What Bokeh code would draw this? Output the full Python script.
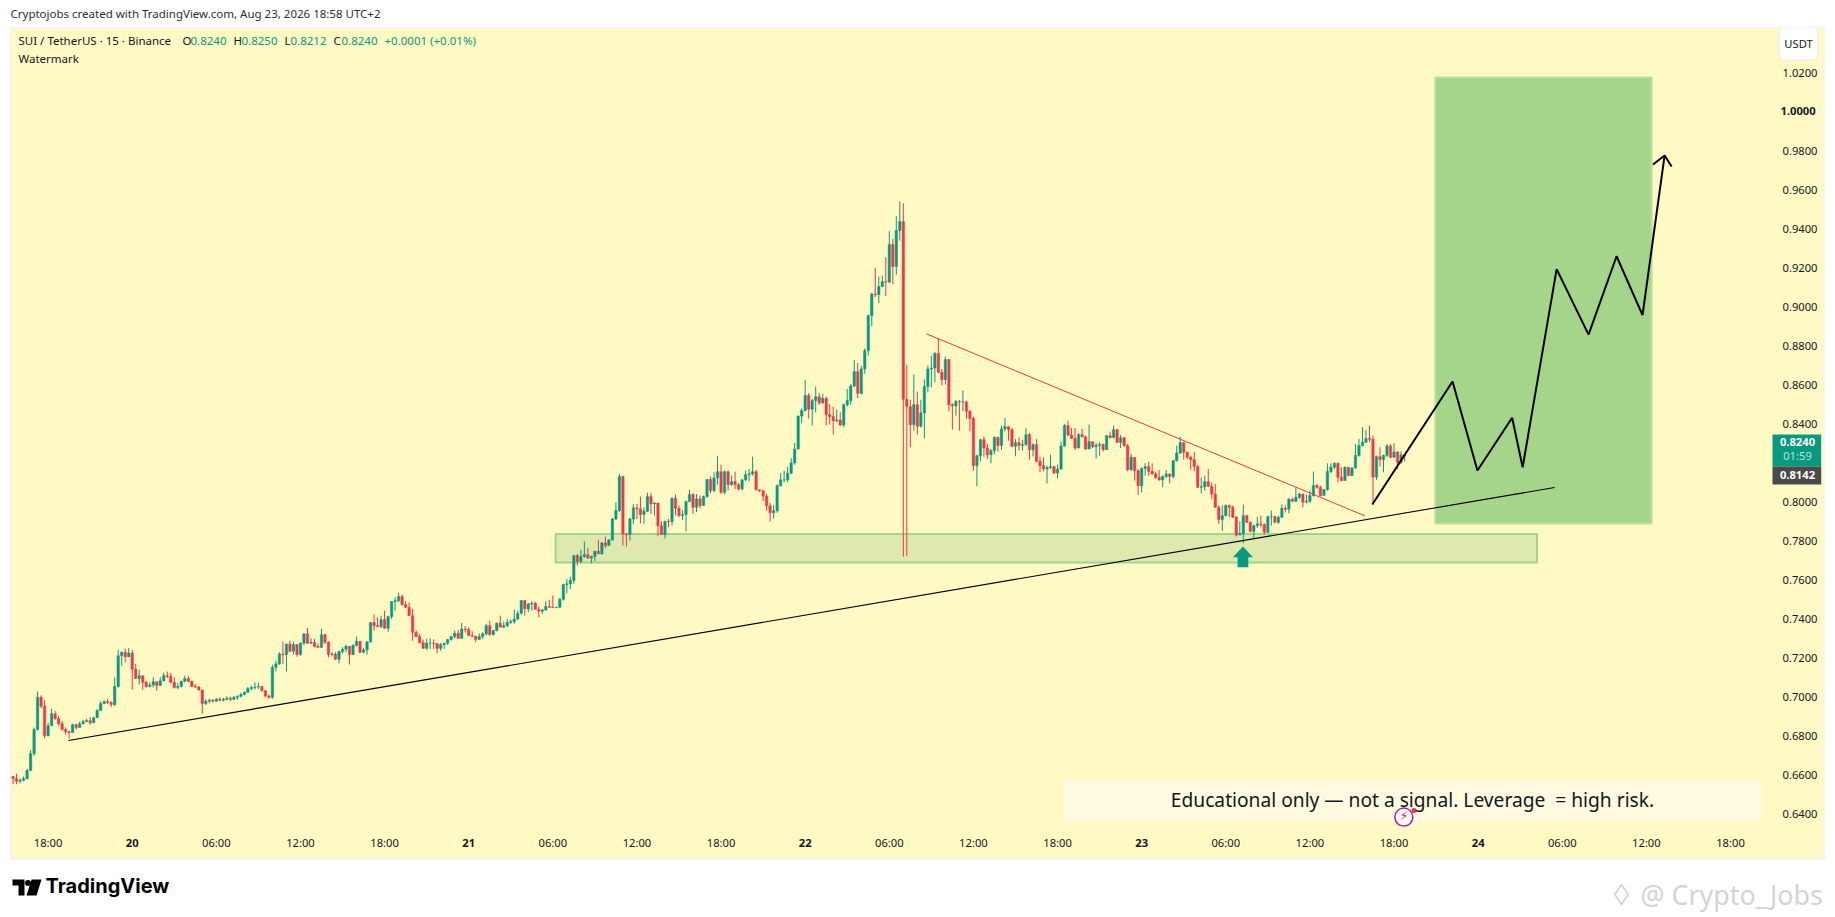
from bokeh.plotting import figure
from bokeh.embed import file_html
from bokeh.resources import INLINE
from bokeh.layouts import column
from bokeh.models import Range1d, FixedTicker, NumeralTickFormatter, Label

closes = [
 .6590,.6575,.6580,.6590,.6630,.6717,.6840,.7005,.6960,.6809,
 .6860,.6921,.6896,.6870,.6840,.6829,.6825,.6865,.6850,.6870,
 .6880,.6886,.6875,.6901,.6937,.6973,.6983,.6978,.6968,.7060,
 .7218,.7236,.7213,.7232,.7149,.7102,.7116,.7082,.7061,.7068,
 .7085,.7065,.7090,.7116,.7113,.7082,.7055,.7061,.7087,.7101,
 .7087,.7061,.7058,.7043,.6973,.6985,.6990,.6985,.6995,.6990,
 .6995,.7000,.6995,.7005,.7010,.7020,.7030,.7050,.7055,.7058,
 .7060,.7039,.7012,.7005,.7159,.7176,.7227,.7224,.7278,.7241,
 .7275,.7224,.7282,.7330,.7282,.7287,.7266,.7261,.7326,.7287,
 .7224,.7227,.7200,.7239,.7251,.7266,.7224,.7270,.7292,.7236,
 .7248,.7289,.7388,.7372,.7367,.7403,.7359,.7418,.7495,.7500,
 .7521,.7480,.7466,.7423,.7338,.7316,.7285,.7256,.7282,.7282,
 .7280,.7256,.7275,.7282,.7301,.7316,.7333,.7307,.7355,.7352,
 .7321,.7318,.7301,.7316,.7330,.7372,.7326,.7347,.7384,.7364,
 .7372,.7388,.7393,.7406,.7435,.7500,.7458,.7483,.7487,.7456,
 .7446,.7452,.7470,.7466,.7464,.7466,.7507,.7582,.7586,.7603,
 .7731,.7700,.7726,.7736,.7717,.7726,.7753,.7739,.7796,.7782,
 .7811,.7918,.7961,.8135,.7842,.7838,.7918,.7975,.7970,.7941,
 .7958,.8033,.7995,.8000,.7884,.7838,.7906,.7905,.8024,.7973,
 .7936,.7941,.8007,.8043,.7978,.8021,.7987,.8033,.8120,.8063,
 .8128,.8160,.8055,.8160,.8094,.8109,.8094,.8072,.8118,.8145,
 .8149,.8160,.8068,.8063,.8035,.7985,.7950,.7960,.8089,.8118,
 .8118,.8152,.8205,.8276,.8445,.8473,.8550,.8480,.8524,.8544,
 .8512,.8536,.8452,.8442,.8421,.8425,.8399,.8503,.8524,.8599,
 .8672,.8561,.8686,.8780,.8959,.9070,.9067,.9108,.9133,.9130,
 .9323,.9210,.9395,.9441,.8531,.8493,.8401,.8503,.8393,.8461,
 .8596,.8686,.8691,.8766,.8669,.8632,.8734,.8503,.8497,.8519,
 .8517,.8517,.8469,.8433,.8191,.8242,.8324,.8282,.8247,.8268,
 .8336,.8294,.8379,.8391,.8375,.8290,.8309,.8295,.8299,.8350,
 .8273,.8299,.8213,.8191,.8174,.8182,.8186,.8153,.8174,.8292,
 .8396,.8348,.8331,.8281,.8350,.8339,.8276,.8314,.8288,.8295,
 .8299,.8273,.8344,.8334,.8375,.8310,.8334,.8293,.8170,.8234,
 .8165,.8088,.8177,.8186,.8162,.8148,.8131,.8118,.8136,.8148,
 .8135,.8216,.8256,.8309,.8259,.8234,.8222,.8187,.8080,.8083,
 .8109,.8085,.8046,.7978,.7915,.7935,.7987,.7978,.7927,.7836,
 .7843,.7935,.7901,.7855,.7884,.7893,.7889,.7850,.7930,.7930,
 .7901,.7927,.7973,.7968,.8019,.8009,.8029,.8046,.8004,.8009,
 .8038,.8089,.8080,.8038,.8068,.8161,.8183,.8203,.8132,.8115,
 .8183,.8140,.8179,.8243,.8294,.8311,.8330,.8326,.8132,.8237,
 .8222,.8243,.8292,.8234,.8261,.8208,.8246,.8240,
]
highs = [
 .6600,.6614,.6590,.6600,.6640,.6735,.6850,.7035,.7015,.6990,
 .6875,.6947,.6935,.6910,.6885,.6850,.6835,.6870,.6870,.6880,
 .6890,.6895,.6905,.6905,.6945,.6985,.6990,.6998,.6985,.7108,
 .7249,.7240,.7254,.7258,.7248,.7176,.7147,.7116,.7090,.7082,
 .7108,.7085,.7108,.7131,.7137,.7131,.7108,.7079,.7090,.7116,
 .7116,.7090,.7073,.7063,.7043,.6995,.6998,.6998,.7002,.7005,
 .7003,.7010,.7008,.7012,.7015,.7028,.7036,.7058,.7065,.7082,
 .7080,.7065,.7040,.7020,.7172,.7193,.7236,.7290,.7280,.7295,
 .7290,.7275,.7287,.7333,.7360,.7309,.7304,.7282,.7355,.7330,
 .7292,.7236,.7236,.7244,.7261,.7275,.7266,.7278,.7316,.7292,
 .7258,.7292,.7389,.7429,.7415,.7423,.7449,.7423,.7497,.7517,
 .7540,.7531,.7497,.7491,.7458,.7347,.7330,.7301,.7304,.7307,
 .7302,.7282,.7283,.7285,.7304,.7318,.7347,.7350,.7386,.7370,
 .7364,.7343,.7321,.7333,.7338,.7381,.7398,.7350,.7388,.7423,
 .7394,.7406,.7403,.7454,.7449,.7504,.7504,.7488,.7497,.7495,
 .7470,.7458,.7497,.7504,.7526,.7470,.7514,.7586,.7611,.7623,
 .7734,.7739,.7760,.7802,.7770,.7731,.7756,.7811,.7799,.7828,
 .7814,.7924,.8004,.8149,.8140,.7845,.7924,.7995,.7995,.8033,
 .7978,.8052,.8052,.8004,.7995,.7906,.7910,.7918,.8029,.8043,
 .7987,.7961,.8012,.8067,.8050,.8046,.8038,.8038,.8123,.8135,
 .8157,.8242,.8196,.8166,.8166,.8140,.8160,.8101,.8123,.8166,
 .8174,.8237,.8169,.8071,.8065,.8045,.8000,.7990,.8095,.8153,
 .8165,.8186,.8230,.8307,.8447,.8485,.8631,.8563,.8533,.8596,
 .8563,.8558,.8544,.8507,.8493,.8478,.8464,.8509,.8584,.8609,
 .8732,.8717,.8703,.8792,.8964,.9075,.9203,.9159,.9164,.9258,
 .9391,.9352,.9468,.9543,.9534,.8708,.8529,.8657,.8570,.8529,
 .8633,.8703,.8754,.8771,.8843,.8686,.8749,.8737,.8510,.8527,
 .8527,.8575,.8524,.8476,.8442,.8247,.8328,.8340,.8302,.8277,
 .8340,.8340,.8396,.8435,.8391,.8384,.8327,.8336,.8324,.8384,
 .8358,.8305,.8327,.8237,.8233,.8191,.8247,.8191,.8196,.8314,
 .8404,.8421,.8384,.8384,.8358,.8379,.8344,.8401,.8314,.8307,
 .8310,.8305,.8348,.8365,.8396,.8379,.8348,.8339,.8302,.8251,
 .8230,.8174,.8182,.8204,.8211,.8203,.8160,.8169,.8140,.8169,
 .8152,.8220,.8293,.8339,.8310,.8264,.8242,.8262,.8196,.8131,
 .8140,.8174,.8106,.8097,.7987,.7987,.7992,.7992,.7987,.7934,
 .7905,.7992,.7940,.7906,.7889,.7930,.7935,.7896,.7934,.7961,
 .7934,.7935,.7992,.7987,.8026,.8026,.8077,.8053,.8046,.8043,
 .8063,.8161,.8097,.8089,.8072,.8203,.8203,.8208,.8208,.8183,
 .8186,.8183,.8183,.8302,.8328,.8388,.8374,.8396,.8345,.8243,
 .8285,.8248,.8302,.8302,.8306,.8265,.8265,.8250,
]
lows = [
 .6560,.6560,.6565,.6575,.6585,.6630,.6705,.6835,.6950,.6795,
 .6805,.6860,.6890,.6860,.6835,.6815,.6795,.6825,.6840,.6850,
 .6870,.6880,.6865,.6895,.6900,.6937,.6973,.6970,.6955,.6960,
 .7055,.7167,.7184,.7210,.7044,.7099,.7070,.7044,.7055,.7056,
 .7056,.7039,.7067,.7087,.7104,.7077,.7050,.7046,.7056,.7082,
 .7082,.7057,.7053,.7040,.6921,.6965,.6975,.6978,.6982,.6985,
 .6985,.6990,.6985,.6990,.6992,.7005,.7015,.7030,.7040,.7045,
 .7048,.7035,.7005,.6998,.6998,.7138,.7172,.7176,.7138,.7235,
 .7224,.7213,.7218,.7272,.7278,.7278,.7261,.7258,.7258,.7278,
 .7210,.7215,.7196,.7179,.7231,.7236,.7173,.7222,.7266,.7231,
 .7231,.7224,.7285,.7347,.7364,.7360,.7355,.7341,.7406,.7449,
 .7492,.7475,.7463,.7422,.7295,.7316,.7282,.7253,.7249,.7253,
 .7253,.7231,.7244,.7253,.7273,.7295,.7307,.7307,.7306,.7338,
 .7321,.7313,.7287,.7301,.7304,.7321,.7321,.7321,.7342,.7364,
 .7360,.7364,.7381,.7381,.7401,.7429,.7423,.7441,.7449,.7454,
 .7415,.7432,.7449,.7463,.7463,.7463,.7461,.7500,.7538,.7560,
 .7586,.7679,.7691,.7719,.7717,.7691,.7702,.7739,.7736,.7768,
 .7782,.7808,.7913,.7953,.7782,.7777,.7808,.7893,.7918,.7896,
 .7893,.7953,.7944,.7935,.7830,.7838,.7819,.7876,.7884,.7936,
 .7927,.7913,.7855,.8004,.7944,.7953,.7973,.7987,.8026,.8050,
 .8055,.8094,.8045,.8045,.8063,.8089,.8072,.8063,.8063,.8114,
 .8111,.8140,.8063,.8055,.8010,.7960,.7905,.7920,.7950,.8084,
 .8106,.8106,.8148,.8196,.8275,.8408,.8469,.8433,.8396,.8464,
 .8502,.8507,.8396,.8401,.8350,.8413,.8393,.8387,.8493,.8503,
 .8592,.8536,.8555,.8661,.8754,.8905,.9053,.9022,.9104,.9058,
 .9128,.9120,.9169,.9343,.7725,.7730,.8285,.8370,.8350,.8387,
 .8331,.8567,.8592,.8618,.8664,.8601,.8606,.8469,.8375,.8447,
 .8370,.8469,.8430,.8367,.8165,.8085,.8213,.8237,.8225,.8203,
 .8251,.8263,.8271,.8367,.8319,.8285,.8239,.8268,.8268,.8293,
 .8222,.8239,.8208,.8157,.8162,.8100,.8174,.8148,.8126,.8170,
 .8288,.8341,.8327,.8271,.8281,.8336,.8273,.8276,.8281,.8228,
 .8242,.8263,.8273,.8331,.8334,.8307,.8281,.8288,.8162,.8165,
 .8114,.8042,.8054,.8140,.8140,.8145,.8123,.8114,.8080,.8128,
 .8100,.8126,.8213,.8251,.8222,.8225,.8170,.8162,.8076,.8049,
 .8063,.8083,.8020,.7975,.7893,.7858,.7932,.7927,.7923,.7828,
 .7836,.7794,.7898,.7850,.7821,.7872,.7875,.7838,.7848,.7884,
 .7896,.7893,.7923,.7952,.7947,.8004,.8004,.8021,.7978,.7998,
 .8000,.8033,.8072,.8033,.8038,.8063,.8152,.8174,.8106,.8111,
 .8115,.8137,.8145,.8176,.8237,.8289,.8306,.8311,.7995,.8118,
 .8186,.8157,.8234,.8229,.8231,.8174,.8200,.8212,
]
first_open = .6600
first_index = -10

y_ticks = [.64,.66,.68,.70,.72,.74,.76,.78,.80,.82,.84,.86,.88,.90,.92,.94,.96,.98,1.00,1.02]
x_tick_index = [0,24,48,72,96,120,144,168,192,216,240,264,288,312,336,360,384,408,432,456,480]
x_tick_text = ["18:00","20","06:00","12:00","18:00","21","06:00","12:00","18:00","22","06:00",
               "12:00","18:00","23","06:00","12:00","18:00","24","06:00","12:00","18:00"]

target_box_x = [395.8, 457.5]
target_box_y = [.7895, 1.0178]
zone_x = [144.8, 424.8]
zone_y = [.7695, .7841]
support_x = [5.8, 429.8]
support_y = [.6784, .8079]
resistance_x = [250.6, 375.7]
resistance_y = [.8866, .7934]
path_x = [377.8,400.7,407.8,417.7,420.7,430.4,439.5,447.5,454.9,461.2]
path_y = [.7992,.8622,.8166,.8436,.8183,.9197,.8862,.9263,.8962,.9779]
head_x = [457.9,461.2,463.2]
head_y = [.9733,.9779,.9722]
arrow_x = [340.9,343.75,342.42,342.42,339.38,339.38,338.05]
arrow_y = [.7777,.7722,.7722,.7671,.7671,.7722,.7722]
note_x = [289.8, 488.8]
note_y = [.6370, .6584]
event_x = [386.8]
event_y = [.6392]
event_dot_x = [389.7]
event_dot_y = [.6426]

YELLOW = "#fff9c4"
UP = "#089981"
DOWN = "#f23645"
INK = "#131722"
FONT = "Noto Sans"
SPACING = 3.505
ORIGIN = 47.6
PX_PER_UNIT = 1950.0
READ_PX_PER_UNIT = 1953.5

def X(px):
    return (px - ORIGIN) / SPACING

def Y(py):
    return 1.02 - (py - 72.7) / PX_PER_UNIT

def cal(values):
    # the readings were taken with a slightly different axis calibration
    return [1.02 - (1.02 - v) * READ_PX_PER_UNIT / PX_PER_UNIT for v in values]

p = figure(width=1815, height=833, output_backend="svg", toolbar_location=None,
           x_range=Range1d(X(10), X(1825)), y_range=Range1d(Y(860), Y(27)),
           y_axis_location="right", background_fill_color=YELLOW, border_fill_color=YELLOW,
           min_border_left=0, min_border_top=0, min_border_right=0, min_border_bottom=0,
           outline_line_color="#f0f3fa", outline_line_width=2, margin=(0, 0, 0, 2))
p.grid.visible = False

for ax in (p.xaxis[0], p.yaxis[0]):
    ax.axis_line_color = None
    ax.major_tick_line_color = None
    ax.minor_tick_line_color = None
    ax.major_tick_out = 0
    ax.major_label_text_font = FONT
    ax.major_label_text_font_size = "11.2px"
    ax.major_label_text_color = INK

p.yaxis[0].major_label_standoff = 4
p.xaxis[0].major_label_standoff = 2
p.yaxis[0].fixed_location = X(1778)
p.xaxis[0].fixed_location = Y(832)
p.yaxis[0].ticker = FixedTicker(ticks=y_ticks)
p.yaxis[0].formatter = NumeralTickFormatter(format="0.0000")
p.yaxis[0].major_label_overrides = {1.0: "", 0.82: ""}
p.xaxis[0].ticker = FixedTicker(ticks=x_tick_index)
p.xaxis[0].major_label_overrides = {i: ("" if len(t) == 2 else t) for i, t in zip(x_tick_index, x_tick_text)}

ty = cal(target_box_y)
p.quad(left=target_box_x[0], right=target_box_x[1], bottom=ty[0], top=ty[1],
       fill_color="#a5d48b", line_color="#b9dfa0", line_width=2)
zy = cal(zone_y)
p.quad(left=zone_x[0], right=zone_x[1], bottom=zy[0], top=zy[1],
       fill_color="#dde9ae", line_color="#a0d488", line_width=2)
ny = cal(note_y)
p.quad(left=note_x[0], right=note_x[1], bottom=ny[0], top=ny[1],
       fill_color="#fffae0", line_color=None)

index = [first_index + i for i in range(len(closes))]
opens = [first_open] + closes[:-1]
colors = [UP if c >= o else DOWN for o, c in zip(opens, closes)]
tops = [max(o, c) for o, c in zip(opens, closes)]
bottoms = [min(o, c) for o, c in zip(opens, closes)]
wick_hi = [max(h, t) for h, t in zip(highs, tops)]
wick_lo = [min(l, b) for l, b in zip(lows, bottoms)]

p.segment(index, cal(wick_hi), index, cal(wick_lo), line_color=colors, line_width=1)
p.vbar(x=index, width=0.68, top=cal(tops), bottom=cal(bottoms), fill_color=colors, line_color=colors, line_width=0.5)

p.line(support_x, cal(support_y), line_color="#000000", line_width=1.1)
p.line(resistance_x, cal(resistance_y), line_color=DOWN, line_width=1)
p.line(path_x, cal(path_y), line_color="#000000", line_width=2)
p.line(head_x, cal(head_y), line_color="#000000", line_width=2)
p.patch(arrow_x, cal(arrow_y), fill_color=UP, line_color=None)
p.scatter(event_x, cal(event_y), size=18, marker="circle", fill_color="#fff9e8", line_color="#9c27b0", line_width=1.5)
p.scatter(event_dot_x, cal(event_dot_y), size=5, marker="circle", fill_color=DOWN, line_color=None)

# price tags on the axis strip
p.quad(left=X(1772), right=X(1820.7), top=Y(434), bottom=Y(466), fill_color=UP, line_color=None)
p.quad(left=X(1772), right=X(1820.7), top=Y(466), bottom=Y(484), fill_color="#4a4a4a", line_color=None)

def lbl(text, px, py, size="11.5px", color=INK, align="left", style="normal", font=FONT, **kw):
    p.add_layout(Label(x=X(px), y=Y(py), text=text, text_font=font, text_font_size=size,
                       text_color=color, text_align=align, text_baseline="middle",
                       text_font_style=style, **kw))

lbl("SUI / TetherUS · 15 · Binance", 18, 40)
for t, x, c in [("O", 182, INK), ("0.8240", 190, UP), ("H", 233, INK), ("0.8250", 241, UP),
                ("L", 284, INK), ("0.8212", 290, UP), ("C", 333, INK), ("0.8240", 341, UP),
                ("+0.0001 (+0.01%)", 384, UP)]:
    lbl(t, x, 40, color=c)
lbl("Watermark", 18, 58)
lbl("⚡", 1403.5, 815.5, size="12px", color="#9c27b0", align="center", font="DejaVu Sans")
lbl("Educational only — not a signal. Leverage\u00a0 = high risk.", 1412, 799, size="19.2px", align="center")

for i, t in zip(x_tick_index, x_tick_text):
    if len(t) == 2:
        lbl(t, ORIGIN + SPACING * i, 842, size="11.2px", align="center", style="bold")
lbl("1.0000", 1780, 110, size="11.2px", style="bold")

lbl("USDT", 1798, 43, size="11.2px", align="center", background_fill_color="#ffffff",
    border_radius=5, padding=(5, 9), border_line_color="#e6e9f0")
lbl("0.8240", 1797, 441, size="11.2px", color="#ffffff", align="center", style="bold")
lbl("01:59", 1797, 455, size="11.2px", color="#b8e4dc", align="center")
lbl("0.8142", 1797, 474, size="11.2px", color="#ffffff", align="center", style="bold")

header = figure(width=1819, height=27, output_backend="svg", toolbar_location=None,
                x_range=Range1d(8, 1827), y_range=Range1d(27, 0), background_fill_color="#ffffff",
                border_fill_color="#ffffff", min_border=0, outline_line_color=None)
header.axis.visible = False
header.grid.visible = False
header.add_layout(Label(x=10, y=13, text="Cryptojobs created with TradingView.com, Aug 23, 2026 18:58 UTC+2",
                        text_font=FONT, text_font_size="11.5px", text_color="#2a2e39", text_baseline="middle"))

footer = figure(width=1827, height=57, output_backend="svg", toolbar_location=None,
                x_range=Range1d(8, 1835), y_range=Range1d(917, 860), background_fill_color="#ffffff",
                border_fill_color="#ffffff", min_border=0, outline_line_color=None)
footer.axis.visible = False
footer.grid.visible = False
footer.patch([12,24,24,18,18,12], [879,879,895,895,885,885], fill_color="#000000", line_color=None)
footer.scatter([27.5], [882.5], size=6, marker="circle", fill_color="#000000", line_color=None)
footer.patch([31,41,36,26], [879,879,895,895], fill_color="#000000", line_color=None)
footer.add_layout(Label(x=45, y=885, text="TradingView", text_font="Inter", text_font_style="bold",
                        text_font_size="20px", text_color="#000000", text_baseline="middle"))
footer.scatter([1621], [894], size=20, marker="diamond", fill_color="#ffffff", line_color="#d0d0d0", line_width=1.5)
footer.add_layout(Label(x=1640, y=893.5, text="@ Crypto_Jobs", text_font=FONT,
                        text_font_size="26.8px", text_color="#d4d4d4", text_baseline="middle"))

layout = column(header, p, footer, spacing=0, margin=(0, 0, 0, 8))
open("out.html", "w").write(file_html(layout, INLINE))
